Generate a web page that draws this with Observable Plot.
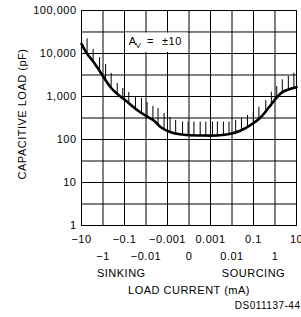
<!DOCTYPE html>
<html><head><meta charset="utf-8">
<script src="https://cdn.jsdelivr.net/npm/d3@7"></script>
<script src="https://cdn.jsdelivr.net/npm/@observablehq/plot@0.6"></script>
<style>
body{margin:0;background:#fff;}
svg text{letter-spacing:0.5px;}
svg text.plain{letter-spacing:0;}
</style></head><body><div id="chart"></div>
<script>
// x positions are uniform slots, labelled by these load-current values (mA)
const xTickLabels = ["−10","−1","−0.1","−0.01","−0.001","0","0.001","0.01","0.1","1","10"];
const xSlots = [0,1,2,3,4,5,6,7,8,9,10];
const yTicks = [1,10,100,1000,10000,100000];
const yGrid = [1,3.162,10,31.62,100,316.2,1000,3162,10000,31623,100000];

// stability boundary curve (capacitive load, pF)
const curveX = [0,0.26,0.57,0.88,1.35,1.655,2.05,2.51,2.975,3.36,3.69,4.15,4.77,5.55,6.32,6.94,7.41,7.87,8.34,8.72,9.03,9.34,9.73,10];
const curveY = [16800,9840,6280,3670,1645,1155,807,518,361,277,193,148,129,124,124,136,162,217,330,564,885,1259,1510,1645];

// hatch marks above the curve
const hatchX = [0.26,0.54,0.84,1.12,1.38,1.66,1.92,2.2,2.51,2.79,3.05,3.32,3.56,3.84,4.12,4.38,4.70,4.96,5.23,5.52,5.78,6.09,6.32,6.60,6.86,7.17,7.44,7.72,7.99,8.25,8.57,8.83,9.08,9.34,9.62,9.88];
const hatchBottom = [10550,6870,4245,2485,1620,1175,898,688,526,425,343,277,223,180,153,138,131,131,124,124,124,124,124,131,134,146,162,190,223,277,402,585,948,1240,1455,1577];
const hatchTop = [21980,12390,8070,5550,3430,2005,1535,1240,948,898,725,585,526,402,325,277,255,255,255,255,255,255,255,255,255,277,313,361,431,564,807,1259,1710,2445,2918,3483];

const curve = curveX.map((x,i)=>({x, y: curveY[i]}));
const hatches = hatchX.map((x,i)=>({x, y1: hatchBottom[i], y2: hatchTop[i]}));

const font = "Liberation Sans, Arial, sans-serif";
const chart = Plot.plot({
  width: 301, height: 317,
  marginLeft: 81, marginRight: 5, marginTop: 10, marginBottom: 92,
  style: {fontFamily: font, fontSize: "11px", color: "black", background: "white"},
  x: {domain: [0,10], nice: false},
  y: {type: "log", domain: [1,100000]},
  marks: [
    Plot.ruleX(xSlots, {y1: 1, y2: 100000, stroke: "black", strokeWidth: 1}),
    Plot.ruleY(yGrid, {stroke: "black", strokeWidth: 1}),
    Plot.rect([{x1:2,x2:5,y1:10000,y2:31623}], {x1:"x1",x2:"x2",y1:"y1",y2:"y2",fill:"white",inset:1}),
    Plot.frame({stroke: "black", strokeWidth: 1}),
    Plot.ruleX(hatches, {x: "x", y1: "y1", y2: "y2", stroke: "black", strokeWidth: 1}),
    Plot.line(curve, {x: "x", y: "y", curve: "catmull-rom", stroke: "black", strokeWidth: 2.6}),
    Plot.axisY({ticks: yTicks, tickSize: 0, tickPadding: 5, tickFormat: d3.format(","), label: null, fontSize: 11}),
    Plot.axisX({ticks: [0,2,4,6,8,10], tickSize: 0, tickPadding: 10, tickFormat: i => xTickLabels[i], label: null, fontSize: 11}),
    Plot.axisX({ticks: [1,3,5,7,9], tickSize: 0, tickPadding: 27, tickFormat: i => xTickLabels[i], label: null, fontSize: 11}),
    Plot.text(["CAPACITIVE LOAD (pF)"], {frameAnchor: "left", textAnchor: "middle", dx: -59, dy: -4, rotate: -90, fontSize: 11}),
    Plot.text(["SINKING"], {x: 1.85, frameAnchor: "bottom", dy: 51, fontSize: 11}),
    Plot.text(["SOURCING"], {x: 8.0, frameAnchor: "bottom", dy: 51, fontSize: 11}),
    Plot.text(["LOAD CURRENT (mA)"], {x: 5, frameAnchor: "bottom", dy: 68.5, fontSize: 11}),
    Plot.text(["DS011137-44"], {x: 10, frameAnchor: "bottom", textAnchor: "end", dx: 4, dy: 83, fontSize: 10, className: "plain"}),
    Plot.text(["A"], {x: 2, y: 17783, textAnchor: "start", dx: 4.3, dy: -1.5, fontSize: 11}),
    Plot.text(["V"], {x: 2, y: 17783, textAnchor: "start", dx: 11, dy: 2.5, fontSize: 8}),
    Plot.text(["="], {x: 2, y: 17783, textAnchor: "start", dx: 22.5, dy: -1.5, fontSize: 11}),
    Plot.text(["±10"], {x: 2, y: 17783, textAnchor: "start", dx: 37.5, dy: -1.5, fontSize: 11})
  ]
});
document.getElementById("chart").appendChild(chart);
</script>
</body></html>
